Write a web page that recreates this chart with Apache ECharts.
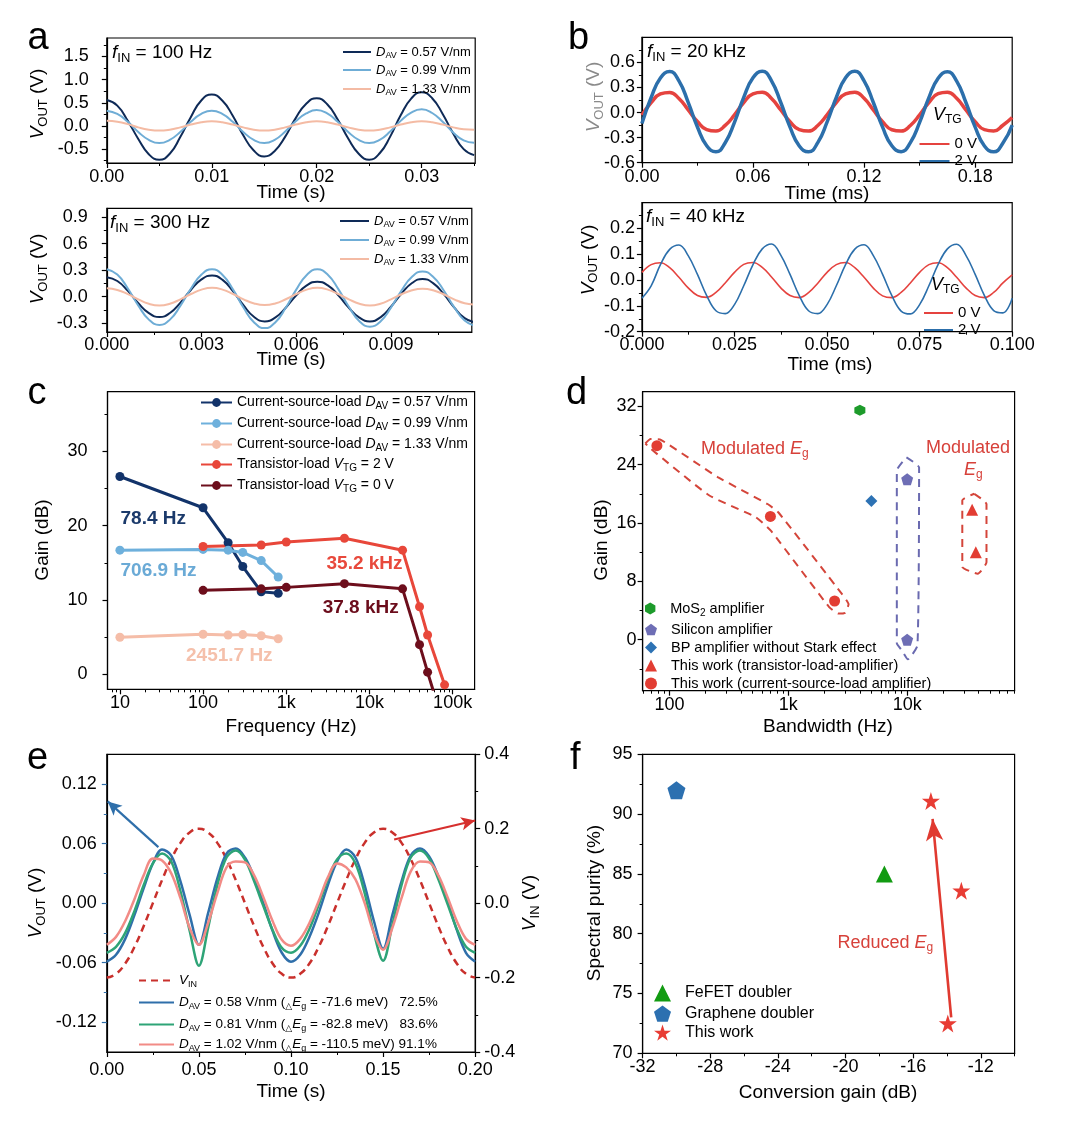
<!DOCTYPE html>
<html>
<head>
<meta charset="utf-8">
<title>BP amplifier figure</title>
<script src="https://cdn.jsdelivr.net/npm/echarts@6.0.0/dist/echarts.min.js"></script>
<style>
	html, body {margin:0; padding:0; background:#fff;}
	#fig {width:1071px; height:1124px;}
</style>
</head>
<body>
<div id="fig"></div>
<script>
	// ---- values ----
	// a: V_OUT traces, 100 Hz (t in s)
	var tA100 = [0,0.001,0.002,0.003,0.004,0.005,0.006,0.007,0.008,0.009,0.01,0.011,0.012,0.013,0.014,0.015,0.016,0.017,0.018,0.019,0.02,0.021,0.022,0.023,0.024,0.025,0.026,0.027,0.028,0.029,0.03,0.031,0.032,0.033,0.034,0.035];
	var a100D057 = [0.56,0.44,0.11,-0.28,-0.61,-0.73,-0.60,-0.24,0.19,0.55,0.68,0.55,0.22,-0.20,-0.53,-0.66,-0.54,-0.23,0.17,0.48,0.60,0.47,0.14,-0.27,-0.60,-0.73,-0.59,-0.23,0.23,0.59,0.73,0.60,0.26,-0.16,-0.50,-0.63];
	var a100D099 = [0.33,0.26,0.09,-0.13,-0.30,-0.37,-0.30,-0.13,0.09,0.26,0.33,0.26,0.09,-0.13,-0.30,-0.37,-0.30,-0.12,0.10,0.27,0.345,0.27,0.09,-0.13,-0.30,-0.37,-0.30,-0.12,0.11,0.29,0.36,0.28,0.09,-0.14,-0.31,-0.36];
	var a100D133 = [0.11,0.09,0.04,-0.03,-0.08,-0.10,-0.08,-0.03,0.03,0.08,0.10,0.08,0.03,-0.03,-0.08,-0.10,-0.08,-0.03,0.03,0.08,0.10,0.08,0.03,-0.03,-0.08,-0.10,-0.08,-0.03,0.03,0.08,0.10,0.08,0.03,-0.03,-0.07,-0.08];
	// a: 300 Hz
	var tA300 = [0,0.000333,0.000667,0.001,0.001333,0.001667,0.002,0.002333,0.002667,0.003,0.003333,0.003667,0.004,0.004333,0.004667,0.005,0.005333,0.005667,0.006,0.006333,0.006667,0.007,0.007333,0.007667,0.008,0.008333,0.008667,0.009,0.009333,0.009667,0.01,0.010333,0.010667,0.011,0.011333,0.011667];
	var a300D057 = [0.22,0.177,0.065,-0.075,-0.187,-0.23,-0.185,-0.068,0.078,0.195,0.24,0.19,0.06,-0.10,-0.23,-0.28,-0.237,-0.125,0.015,0.127,0.17,0.127,0.015,-0.125,-0.237,-0.28,-0.234,-0.114,0.034,0.154,0.20,0.153,0.031,-0.121,-0.243,-0.29];
	var a300D099 = [0.31,0.25,0.092,-0.102,-0.26,-0.32,-0.26,-0.102,0.092,0.25,0.31,0.246,0.08,-0.126,-0.292,-0.356,-0.292,-0.126,0.08,0.246,0.31,0.248,0.085,-0.115,-0.278,-0.34,-0.28,-0.124,0.069,0.225,0.285,0.226,0.073,-0.118,-0.271,-0.33];
	var a300D133 = [0.094,0.075,0.028,-0.031,-0.081,-0.10,-0.08,-0.03,0.03,0.08,0.10,0.08,0.03,-0.03,-0.077,-0.095,-0.077,-0.029,0.03,0.08,0.10,0.08,0.03,-0.03,-0.08,-0.10,-0.08,-0.03,0.027,0.073,0.09,0.073,0.027,-0.03,-0.075,-0.09];
	// b: 20 kHz / 40 kHz (t in ms)
	var tB20 = [0,0.005,0.01,0.015,0.02,0.025,0.03,0.035,0.04,0.045,0.05,0.055,0.06,0.065,0.07,0.075,0.08,0.085,0.09,0.095,0.1,0.105,0.11,0.115,0.12,0.125,0.13,0.135,0.14,0.145,0.15,0.155,0.16,0.165,0.17,0.175,0.18,0.185,0.19,0.195,0.2];
	var b20Vtg0 = [-0.03,0.118,0.222,0.241,0.168,0.031,-0.108,-0.204,-0.221,-0.154,-0.028,0.12,0.224,0.243,0.168,0.03,-0.11,-0.205,-0.222,-0.155,-0.028,0.12,0.224,0.244,0.17,0.03,-0.11,-0.206,-0.222,-0.155,-0.028,0.12,0.225,0.244,0.17,0.03,-0.11,-0.205,-0.22,-0.152,-0.06];
	var b20Vtg2 = [-0.13,0.18,0.414,0.49,0.378,0.122,-0.173,-0.397,-0.47,-0.362,-0.117,0.182,0.415,0.495,0.38,0.12,-0.175,-0.4,-0.47,-0.36,-0.115,0.18,0.416,0.495,0.378,0.12,-0.175,-0.398,-0.468,-0.36,-0.118,0.178,0.41,0.488,0.376,0.12,-0.175,-0.4,-0.47,-0.365,-0.15];
	var tB40 = [0,0.0025,0.005,0.0075,0.01,0.0125,0.015,0.0175,0.02,0.0225,0.025,0.0275,0.03,0.0325,0.035,0.0375,0.04,0.0425,0.045,0.0475,0.05,0.0525,0.055,0.0575,0.06,0.0625,0.065,0.0675,0.07,0.0725,0.075,0.0775,0.08,0.0825,0.085,0.0875,0.09,0.0925,0.095,0.0975,0.1];
	var b40Vtg0 = [0.030,0.060,0.067,0.048,0.011,-0.030,-0.060,-0.067,-0.048,-0.011,0.030,0.061,0.068,0.049,0.012,-0.030,-0.060,-0.068,-0.049,-0.012,0.030,0.060,0.068,0.048,0.011,-0.031,-0.061,-0.068,-0.048,-0.011,0.030,0.060,0.067,0.048,0.011,-0.030,-0.060,-0.068,-0.048,-0.011,0.020];
	var b40Vtg2 = [-0.070,-0.022,0.060,0.119,0.136,0.095,0.022,-0.060,-0.119,-0.130,-0.095,-0.022,0.060,0.121,0.140,0.097,0.022,-0.060,-0.119,-0.130,-0.095,-0.022,0.060,0.120,0.137,0.095,0.022,-0.060,-0.120,-0.131,-0.095,-0.022,0.061,0.121,0.139,0.096,0.022,-0.060,-0.118,-0.127,-0.070];
	// c: gain vs frequency (Hz, dB)
	var cFreqCS = [10, 100, 200, 300, 500, 800];
	var cGain057 = [26.6, 22.4, 17.7, 14.5, 11.1, 10.9];
	var cGain099 = [16.7, 16.8, 16.7, 16.4, 15.3, 13.1];
	var cGain133 = [5.0, 5.4, 5.3, 5.35, 5.2, 4.8];
	var cFreqTG2 = [100, 500, 1000, 5000, 25000, 40000, 50000, 80000];
	var cGainTG2 = [17.2, 17.4, 17.8, 18.3, 16.7, 9.1, 5.3, -1.4];
	var cFreqTG0 = [100, 500, 1000, 5000, 25000, 40000, 50000, 60000];
	var cGainTG0 = [11.3, 11.5, 11.7, 12.2, 11.5, 4.0, 0.3, -2.6];
	// d: gain vs bandwidth
	var dMoS2 = [[4000, 31.45]];
	var dSilicon = [[10000, 22.0], [10000, 0]];
	var dBP = [[5000, 19.0]];
	var dTransistor = [[35200, 17.8], [37800, 12.0]];
	var dCurrentSource = [[78.4, 26.6], [706.9, 16.9], [2451.7, 5.3]];
	var dLoopCS = [[62.7,26.9],[69.3,27.5],[84.6,27.4],[254.6,22.3],[669,18.6],[830,17.4],[2812,6.3],[3214,4.85],[3006,3.7],[2630,3.57],[2198,4.5],[716,14.9],[531,16.8],[215,19.8],[69.3,26.2],[62.7,26.9]];
	var dLoopSi = [[9860,25.0],[12600,23.6],[12200,-0.8],[10140,-2.7],[9055,-1.5],[8185,-0.5],[8185,23.2],[9860,25.0]];
	var dLoopTL = [[36700,20.0],[46500,18.6],[46500,10.6],[39300,9.05],[29100,10.0],[29100,19.1],[36700,20.0]];
	// e: frequency doubling (t in s)
	var tE = [0,0.005,0.01,0.015,0.02,0.025,0.03,0.035,0.04,0.045,0.05,0.055,0.06,0.065,0.07,0.075,0.08,0.085,0.09,0.095,0.1,0.105,0.11,0.115,0.12,0.125,0.13,0.135,0.14,0.145,0.15,0.155,0.16,0.165,0.17,0.175,0.18,0.185,0.19,0.195,0.2];
	var eVin = [-0.2,-0.19,-0.162,-0.118,-0.062,0,0.062,0.118,0.162,0.19,0.2,0.19,0.162,0.118,0.062,0,-0.062,-0.118,-0.162,-0.19,-0.2,-0.19,-0.162,-0.118,-0.062,0,0.062,0.118,0.162,0.19,0.2,0.19,0.162,0.118,0.062,0,-0.062,-0.118,-0.162,-0.19,-0.2];
	var eD058 = [-0.059,-0.052,-0.036,-0.012,0.015,0.040,0.054,0.048,0.022,-0.012,-0.042,-0.010,0.025,0.050,0.055,0.046,0.026,0.000,-0.028,-0.050,-0.059,-0.052,-0.034,-0.010,0.018,0.042,0.054,0.046,0.018,-0.018,-0.046,-0.012,0.022,0.048,0.055,0.047,0.027,0.002,-0.027,-0.050,-0.059];
	var eD081 = [-0.050,-0.044,-0.030,-0.008,0.018,0.040,0.050,0.042,0.012,-0.028,-0.063,-0.025,0.018,0.046,0.053,0.044,0.022,-0.003,-0.027,-0.045,-0.050,-0.043,-0.026,-0.002,0.024,0.044,0.050,0.040,0.010,-0.030,-0.058,-0.022,0.018,0.046,0.053,0.045,0.024,-0.001,-0.026,-0.044,-0.050];
	var eD102 = [-0.042,-0.034,-0.018,0.004,0.028,0.045,0.043,0.030,0.005,-0.025,-0.042,-0.020,0.010,0.036,0.042,0.041,0.028,0.006,-0.018,-0.037,-0.043,-0.036,-0.020,0.002,0.026,0.040,0.036,0.024,0.000,-0.030,-0.047,-0.025,0.005,0.032,0.042,0.041,0.028,0.006,-0.018,-0.036,-0.042];
	// f: spectral purity vs conversion gain
	var fFeFET = [[-17.7, 85.0]];
	var fGraphene = [[-30.0, 92.0]];
	var fThisWork = [[-14.95, 91.1], [-13.15, 83.6], [-13.95, 72.5]];

	// ---- helpers ----
	var FF = '"Liberation Sans", Arial, "DejaVu Sans", sans-serif';
	function rs(fs, color, bold) {
		var sub = Math.round(fs * 0.68);
		function st(o) { o.fontFamily = FF; o.color = color; o.fill = color; if (bold) o.fontWeight = 'bold'; return o; }
		return {
			n: st({fontSize: fs, lineHeight: fs + 4}),
			i: st({fontSize: fs, lineHeight: fs + 4, fontStyle: 'italic'}),
			s: st({fontSize: sub, lineHeight: sub, verticalAlign: 'bottom'}),
			t: st({fontSize: sub, lineHeight: sub, verticalAlign: 'bottom'})
		};
	}
	function log10(v) { return Math.log10(v); }
	function logMinor(lo, hi) {
		var out = [];
		for (var d = 0; d <= 5; d++) for (var m = 2; m <= 9; m++) {
			var v = d + Math.log10(m);
			if (v > lo && v < hi) out.push(v);
		}
		return out;
	}
	var fx0 = function (v) { return String(Math.round(v)); };
	var fx1 = function (v) { return v.toFixed(1); };
	var fx2 = function (v) { return v.toFixed(2); };
	var fx3 = function (v) { return v.toFixed(3); };
	var decadeName = {1: '10', 2: '100', 3: '1k', 4: '10k', 5: '100k'};
	var fxLog = function (v) { return decadeName[Math.round(v)]; };

	var grids = [], xAxes = [], yAxes = [], series = [], legends = [], graphics = [];

	function grid(l, t, w, h) {
		grids.push({left: l, top: t, width: w, height: h, show: true, borderColor: '#000', borderWidth: 1.2,
			backgroundColor: 'rgba(0,0,0,0)', containLabel: false, outerBoundsMode: 'none'});
		return grids.length - 1;
	}
	// main axis (labels + major ticks) plus an overlay axis carrying the minor ticks
	function axis(gi, pos, min, max, major, minor, fmt, margin, tickColor) {
		var list = (pos === 'bottom' || pos === 'top') ? xAxes : yAxes;
		var tc = tickColor || '#000';
		list.push({type: 'value', gridIndex: gi, position: pos, min: min, max: max,
			axisLine: {show: true, onZero: false, lineStyle: {color: '#000', width: 1.2}},
			axisTick: {show: true, inside: false, length: 5, customValues: major, lineStyle: {color: tc, width: 1.2}},
			axisLabel: {show: true, customValues: major, formatter: fmt, margin: margin, color: '#000', fontSize: 18, fontFamily: FF},
			splitLine: {show: false}});
		var idx = list.length - 1;
		list.push({type: 'value', gridIndex: gi, position: pos, min: min, max: max,
			axisLine: {show: false, onZero: false},
			axisTick: {show: true, inside: false, length: 3, customValues: minor, lineStyle: {color: tc, width: 1}},
			axisLabel: {show: false}, splitLine: {show: false}});
		return idx;
	}
	function line(name, gx, gy, xs, ys, color, width, extra) {
		var s = {type: 'line', name: name, xAxisIndex: gx, yAxisIndex: gy,
			data: xs.map(function (x, i) { return [x, ys[i]]; }),
			symbol: 'none', smooth: true, lineStyle: {color: color, width: width}, itemStyle: {color: color}, z: 3};
		for (var k in extra) s[k] = extra[k];
		series.push(s);
		return s;
	}
	function scatter(name, gx, gy, pts, symbol, size, color, logX) {
		var s = {type: 'scatter', name: name, xAxisIndex: gx, yAxisIndex: gy,
			data: pts.map(function (p) { return [logX ? log10(p[0]) : p[0], p[1]]; }),
			symbol: symbol, symbolSize: size, itemStyle: {color: color, opacity: 1}, z: 4};
		series.push(s);
		return s;
	}
	function outline(name, gx, gy, pts, color) {
		series.push({type: 'line', name: name, xAxisIndex: gx, yAxisIndex: gy,
			data: pts.map(function (p) { return [log10(p[0]), p[1]]; }),
			symbol: 'none', smooth: 0.15, lineStyle: {color: color, width: 2, type: [8, 6]}, z: 2, silent: true});
	}
	var legendText = {};
	function leg(name, text, left, yc, fs, iw, ih, padLeft) {
		legendText[name] = text;
		legends.push({data: [name], left: left, top: yc - ih / 2, orient: 'vertical', padding: 0, itemGap: 0,
			itemWidth: iw, itemHeight: ih, selectedMode: false,
			textStyle: {fontFamily: FF, fontSize: fs, color: '#000', rich: rs(fs, '#000'), padding: [0, 0, 0, padLeft || 0]},
			formatter: function (n) { return legendText[n]; }});
	}
	function txt(x, y, s, fs, color, o) {
		o = o || {};
		graphics.push({type: 'text', x: x, y: y, rotation: o.rot || 0, silent: true, z: 20,
			style: {text: s, rich: rs(fs, color, o.bold), fontSize: fs, fontFamily: FF,
				fontWeight: o.bold ? 'bold' : 'normal', fill: color, align: o.align || 'left', verticalAlign: 'middle'}});
	}

	// ---- panel a (top: 100 Hz, bottom: 300 Hz) ----
	var navyA = '#0e2a57', lightA = '#6fadd6', peachA = '#f4bba4';
	var gA1 = grid(106.8, 38, 368.4, 125);
	var xA1 = axis(gA1, 'bottom', 0, 0.0351, [0, 0.01, 0.02, 0.03], [0.005, 0.015, 0.025, 0.035], fx2, 5);
	var yA1 = axis(gA1, 'left', -0.8, 1.9, [-0.5, 0, 0.5, 1, 1.5], [-0.75, -0.25, 0.25, 0.75, 1.25, 1.75], fx1, 18);
	line('a1-057', xA1, yA1, tA100, a100D057, navyA, 2);
	line('a1-099', xA1, yA1, tA100, a100D099, lightA, 2);
	line('a1-133', xA1, yA1, tA100, a100D133, peachA, 2);

	var gA2 = grid(106.8, 208.3, 365, 123.7);
	var xA2 = axis(gA2, 'bottom', 0, 0.01156, [0, 0.003, 0.006, 0.009], [0.0015, 0.0045, 0.0075, 0.0105], fx3, 4);
	var yA2 = axis(gA2, 'left', -0.4, 1.0, [-0.3, 0, 0.3, 0.6, 0.9], [-0.15, 0.15, 0.45, 0.75], fx1, 19);
	line('a2-057', xA2, yA2, tA300, a300D057, navyA, 2);
	line('a2-099', xA2, yA2, tA300, a300D099, lightA, 2);
	line('a2-133', xA2, yA2, tA300, a300D133, peachA, 2);

	// ---- panel b (top: 20 kHz, bottom: 40 kHz) ----
	var redB = '#e5433f', blueB = '#2c6fab';
	var gB1 = grid(641.9, 37.3, 370.3, 125.4);
	var xB1 = axis(gB1, 'bottom', 0, 0.2, [0, 0.06, 0.12, 0.18], [0.03, 0.09, 0.15], fx2, 5);
	var yB1 = axis(gB1, 'left', -0.6, 0.9, [-0.6, -0.3, 0, 0.3, 0.6], [-0.45, -0.15, 0.15, 0.45, 0.75], fx1, 7);
	line('b1-0V', xB1, yB1, tB20, b20Vtg0, redB, 3.5);
	line('b1-2V', xB1, yB1, tB20, b20Vtg2, blueB, 3.5);

	var gB2 = grid(641.9, 202.7, 370.3, 129);
	var xB2 = axis(gB2, 'bottom', 0, 0.1, [0, 0.025, 0.05, 0.075, 0.1], [0.0125, 0.0375, 0.0625, 0.0875], fx3, 4);
	var yB2 = axis(gB2, 'left', -0.2, 0.3, [-0.2, -0.1, 0, 0.1, 0.2], [-0.15, -0.05, 0.05, 0.15, 0.25], fx1, 7);
	line('b2-0V', xB2, yB2, tB40, b40Vtg0, redB, 1.6, {smooth: 0.4});
	line('b2-2V', xB2, yB2, tB40, b40Vtg2, blueB, 1.6, {smooth: 0.4});

	// ---- panel c (gain vs frequency, log x) ----
	var cNavy = '#12336a', cLight = '#6eb0dc', cPeach = '#f5bda8', cRed = '#e8473a', cDark = '#6d0e1c';
	var gC = grid(107.5, 391.7, 367.1, 297.6);
	var xC = axis(gC, 'bottom', 0.851, 5.264, [1, 2, 3, 4, 5], logMinor(0.851, 5.264), fxLog, 5);
	var yC = axis(gC, 'left', -2, 38, [0, 10, 20, 30], [5, 15, 25, 35], fx0, 20);
	var cOpt = {smooth: false, symbol: 'circle', symbolSize: 9, showSymbol: true};
	line('c-057', xC, yC, cFreqCS.map(log10), cGain057, cNavy, 3, cOpt);
	line('c-099', xC, yC, cFreqCS.map(log10), cGain099, cLight, 3, cOpt);
	line('c-133', xC, yC, cFreqCS.map(log10), cGain133, cPeach, 3, cOpt);
	line('c-TG2', xC, yC, cFreqTG2.map(log10), cGainTG2, cRed, 3, cOpt);
	line('c-TG0', xC, yC, cFreqTG0.map(log10), cGainTG0, cDark, 3, cOpt);

	// ---- panel d (gain vs bandwidth, log x) ----
	var gD = grid(642.6, 391.7, 372, 299);
	var xD = axis(gD, 'bottom', 1.774, 4.904, [2, 3, 4], logMinor(1.774, 4.904), fxLog, 5);
	var yD = axis(gD, 'left', -7, 34, [0, 8, 16, 24, 32], [-4, 4, 12, 20, 28], fx0, 6);
	var HEX = 'path://M50,0 L93.3,25 L93.3,75 L50,100 L6.7,75 L6.7,25 Z';
	var PENT = 'path://M50,0 L97.6,34.5 L79.4,90.5 L20.6,90.5 L2.4,34.5 Z';
	var STAR = 'path://M50,0 L61.2,34.5 L97.6,34.5 L68.2,55.9 L79.4,90.5 L50,69.1 L20.6,90.5 L31.8,55.9 L2.4,34.5 L38.8,34.5 Z';
	outline('d-loop-cs', xD, yD, dLoopCS, '#d4453a');
	outline('d-loop-si', xD, yD, dLoopSi, '#6a6ab0');
	outline('d-loop-tl', xD, yD, dLoopTL, '#d4453a');
	scatter('d-mos2', xD, yD, dMoS2, HEX, 11, '#1d9b2b', true);
	scatter('d-si', xD, yD, dSilicon, PENT, 12, '#6e6eb5', true);
	scatter('d-bp', xD, yD, dBP, 'diamond', 12, '#2d72b4', true);
	scatter('d-tl', xD, yD, dTransistor, 'triangle', 12, '#e23d33', true);
	scatter('d-cs', xD, yD, dCurrentSource, 'circle', 11, '#e23d33', true);

	// ---- panel e (frequency doubling) ----
	var eBlue = '#2f6faa', eGreen = '#2ea477', ePink = '#f28b86', eRed = '#c9302c';
	var gE = grid(106.8, 754.3, 368.4, 297.7);
	var xE = axis(gE, 'bottom', 0, 0.2, [0, 0.05, 0.1, 0.15, 0.2], [0.025, 0.075, 0.125, 0.175], fx2, 9);
	var yE = axis(gE, 'left', -0.15, 0.15, [-0.12, -0.06, 0, 0.06, 0.12], [-0.09, -0.03, 0.03, 0.09], fx2, 10, eBlue);
	var yER = axis(gE, 'right', -0.4, 0.4, [-0.4, -0.2, 0, 0.2, 0.4], [-0.3, -0.1, 0.1, 0.3], fx1, 9);
	line('e-vin', xE, yER, tE, eVin, eRed, 2.5, {lineStyle: {color: eRed, width: 2.5, type: [7, 5]},
		markLine: {silent: true, animation: false, symbol: ['none', 'arrow'], symbolSize: [10, 14], label: {show: false},
			lineStyle: {color: '#d6302e', width: 2.2, type: 'solid'},
			data: [[{coord: [0.156, 0.171]}, {coord: [0.2, 0.222]}]]}});
	line('e-058', xE, yE, tE, eD058, eBlue, 2.5, {smooth: 0.35,
		markLine: {silent: true, animation: false, symbol: ['none', 'arrow'], symbolSize: [10, 14], label: {show: false},
			lineStyle: {color: eBlue, width: 2.2, type: 'solid'},
			data: [[{coord: [0.028, 0.0565]}, {coord: [0.0005, 0.1025]}]]}});
	line('e-081', xE, yE, tE, eD081, eGreen, 2.5, {smooth: 0.35});
	line('e-102', xE, yE, tE, eD102, ePink, 2.5, {smooth: 0.35});

	// ---- panel f (spectral purity vs conversion gain) ----
	var gF = grid(642.6, 754.3, 372, 299);
	var xF = axis(gF, 'bottom', -32, -10, [-32, -28, -24, -20, -16, -12], [-30, -26, -22, -18, -14, -10], fx0, 5);
	var yF = axis(gF, 'left', 70, 95, [70, 75, 80, 85, 90, 95], [72.5, 77.5, 82.5, 87.5, 92.5], fx0, 10);
	scatter('f-fefet', xF, yF, fFeFET, 'triangle', 17, '#129b12', false);
	scatter('f-graphene', xF, yF, fGraphene, PENT, 18, '#2c70b0', false);
	var fw = scatter('f-this', xF, yF, fThisWork, STAR, 18, '#e83c34', false);
	fw.markLine = {silent: true, animation: false, symbol: ['none', 'arrow'], symbolSize: [13, 22], label: {show: false},
		lineStyle: {color: '#e03a30', width: 2.6, type: 'solid'},
		data: [[{coord: [-13.75, 73.0]}, {coord: [-14.85, 89.6]}]]};

	// ---- legends ----
	var dav = function (v) { return '{i|D}{s|AV}{n| = ' + v + ' V/nm}'; };
	leg('a1-057', dav('0.57'), 342, 46, 13, 28, 1);
	leg('a1-099', dav('0.99'), 342, 64, 13, 28, 1);
	leg('a1-133', dav('1.33'), 342, 83, 13, 28, 1);
	leg('a2-057', dav('0.57'), 339, 215, 13, 29, 1);
	leg('a2-099', dav('0.99'), 339, 234, 13, 29, 1);
	leg('a2-133', dav('1.33'), 339, 253, 13, 29, 1);
	leg('b1-0V', '{n|0 V}', 918.5, 137, 15, 30, 1);
	leg('b1-2V', '{n|2 V}', 918.5, 154, 15, 30, 1);
	leg('b2-0V', '{n|0 V}', 923, 306, 15, 29, 1);
	leg('b2-2V', '{n|2 V}', 923, 323, 15, 29, 1);
	var csl = function (v) { return '{n|Current-source-load }{i|D}{s|AV}{n| = ' + v + ' V/nm}'; };
	leg('c-057', csl('0.57'), 200, 401, 14, 31, 11);
	leg('c-099', csl('0.99'), 200, 422, 14, 31, 11);
	leg('c-133', csl('1.33'), 200, 443, 14, 31, 11);
	leg('c-TG2', '{n|Transistor-load }{i|V}{s|TG}{n| = 2 V}', 200, 463, 14, 31, 11);
	leg('c-TG0', '{n|Transistor-load }{i|V}{s|TG}{n| = 0 V}', 200, 484, 14, 31, 11);
	leg('d-mos2', '{n|MoS}{s|2}{n| amplifier}', 645, 607, 14.5, 12, 12, 9);
	leg('d-si', '{n|Silicon amplifier}', 645, 628, 14.5, 12, 12, 9);
	leg('d-bp', '{n|BP amplifier without Stark effect}', 645, 646, 14.5, 12, 12, 9);
	leg('d-tl', '{n|This work (transistor-load-amplifier)}', 645, 664, 14.5, 12, 12, 9);
	leg('d-cs', '{n|This work (current-source-load amplifier)}', 645, 682, 14.5, 12, 12, 9);
	leg('e-vin', '{i|V}{s|IN}', 138, 974, 13.5, 35, 1);
	leg('e-058', '{i|D}{s|AV}{n| = 0.58 V/nm (}{t|△}{i|E}{s|g}{n| = -71.6 meV)   72.5%}', 138, 996, 13.5, 35, 1);
	leg('e-081', '{i|D}{s|AV}{n| = 0.81 V/nm (}{t|△}{i|E}{s|g}{n| = -82.8 meV)   83.6%}', 138, 1018, 13.5, 35, 1);
	leg('e-102', '{i|D}{s|AV}{n| = 1.02 V/nm (}{t|△}{i|E}{s|g}{n| = -110.5 meV) 91.1%}', 138, 1038, 13.5, 35, 1);
	leg('f-fefet', '{n|FeFET doubler}', 654, 993, 16, 17, 17, 9);
	leg('f-graphene', '{n|Graphene doubler}', 654, 1014, 16, 17, 17, 9);
	leg('f-this', '{n|This work}', 654, 1033, 16, 17, 17, 9);

	// ---- panel letters, axis titles, annotations ----
	var R = Math.PI / 2;
	[['a', 27.5, 39], ['b', 568, 39], ['c', 27.5, 394], ['d', 566, 394], ['e', 27, 759], ['f', 570, 759]].forEach(function (p) {
		txt(p[1], p[2], p[0], 38, '#000');
	});
	var vout = '{i|V}{s|OUT}{n| (V)}';
	txt(291, 193, 'Time (s)', 19, '#000', {align: 'center'});
	txt(38, 104, vout, 19, '#000', {align: 'center', rot: R});
	txt(291, 360, 'Time (s)', 19, '#000', {align: 'center'});
	txt(38, 269, vout, 19, '#000', {align: 'center', rot: R});
	txt(827, 194, 'Time (ms)', 19, '#000', {align: 'center'});
	txt(594, 97, vout, 19, '#8a8a8a', {align: 'center', rot: R});
	txt(830, 365, 'Time (ms)', 19, '#000', {align: 'center'});
	txt(588.5, 260, vout, 19, '#000', {align: 'center', rot: R});
	txt(291, 727, 'Frequency (Hz)', 19, '#000', {align: 'center'});
	txt(43, 540, 'Gain (dB)', 19, '#000', {align: 'center', rot: R});
	txt(828, 727, 'Bandwidth (Hz)', 19, '#000', {align: 'center'});
	txt(602, 540, 'Gain (dB)', 19, '#000', {align: 'center', rot: R});
	txt(291, 1092, 'Time (s)', 19, '#000', {align: 'center'});
	txt(36, 903, vout, 19, '#000', {align: 'center', rot: R});
	txt(530, 903, '{i|V}{s|IN}{n| (V)}', 19, '#000', {align: 'center', rot: R});
	txt(828, 1093, 'Conversion gain (dB)', 19, '#000', {align: 'center'});
	txt(595, 903, 'Spectral purity (%)', 19, '#000', {align: 'center', rot: R});

	txt(112, 53, '{i|f}{s|IN}{n| = 100 Hz}', 19, '#000');
	txt(110, 223, '{i|f}{s|IN}{n| = 300 Hz}', 19, '#000');
	txt(647, 52, '{i|f}{s|IN}{n| = 20 kHz}', 19, '#000');
	txt(646, 217, '{i|f}{s|IN}{n| = 40 kHz}', 19, '#000');
	txt(933, 115, '{i|V}{s|TG}', 18, '#000');
	txt(931, 285, '{i|V}{s|TG}', 18, '#000');

	txt(120.5, 519, '78.4 Hz', 19, '#1b3a6b', {bold: true});
	txt(120.5, 571, '706.9 Hz', 19, '#6aaad6', {bold: true});
	txt(186, 656, '2451.7 Hz', 19, '#f5c0ab', {bold: true});
	txt(326.5, 564, '35.2 kHz', 19, '#e8493c', {bold: true});
	txt(322.7, 608, '37.8 kHz', 19, '#6b0c1b', {bold: true});

	txt(701, 449, '{n|Modulated }{i|E}{s|g}', 18, '#d7413a');
	txt(926, 448, 'Modulated', 18, '#d7413a');
	txt(964, 470, '{i|E}{s|g}', 18, '#d7413a');
	txt(837.5, 943, '{n|Reduced }{i|E}{s|g}', 18, '#d7413a');

	var chart = echarts.init(document.getElementById('fig'), null, {renderer: 'canvas'});
	chart.setOption({
		animation: false,
		backgroundColor: '#fff',
		textStyle: {fontFamily: FF},
		grid: grids,
		xAxis: xAxes,
		yAxis: yAxes,
		legend: legends,
		series: series,
		graphic: {elements: graphics}
	});
</script>
</body>
</html>
